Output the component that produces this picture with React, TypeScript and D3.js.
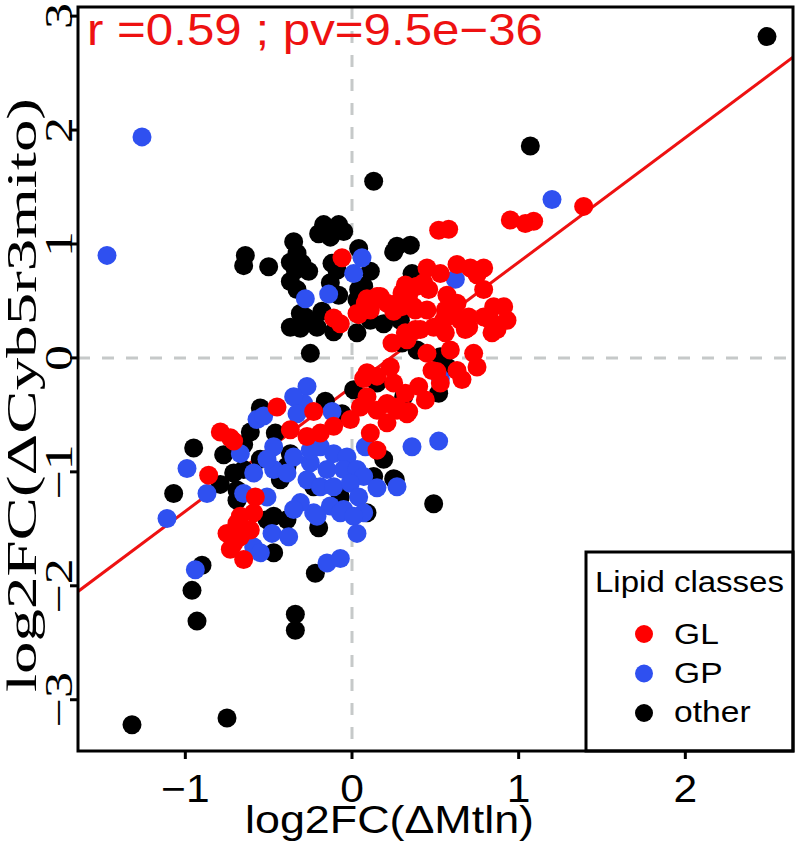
import React from "react";
import * as d3 from "d3";

// ---- data (log2 fold changes) ----
const otherX = [2.49,1.07,0.13,-0.64,-0.65,-0.50,-0.35,-0.33,-0.37,-0.34,-0.30,-0.26,-0.37,-0.33,-0.17,-0.08,-0.20,-0.13,-0.05,-0.12,-0.09,-0.13,-0.08,0.04,-0.28,-0.31,-0.21,-0.11,0.03,-0.18,-0.25,0.04,0.03,0.27,0.35,0.25,0.11,0.07,0.36,0.39,0.11,0.19,0.29,0.39,0.53,0.57,0.30,0.52,0.31,0.26,0.49,0.01,0.15,-0.16,-0.06,0.19,0.13,0.25,-0.07,0.09,-0.55,-0.61,-0.46,-0.95,-0.77,-0.65,-0.79,-0.65,-0.69,-0.37,-0.39,-0.43,-1.07,-0.69,-0.47,-0.23,-0.39,-0.47,-0.20,-0.90,-0.96,-0.93,-0.22,-0.34,-0.34,-1.32,-0.75,-0.37,-0.27,-0.31,-0.71,-0.55,-0.51];
const otherY = [2.82,1.86,1.55,0.90,0.81,0.80,1.02,0.92,0.84,0.77,0.83,0.76,0.67,0.60,1.17,1.17,1.09,1.06,1.11,0.83,0.77,0.66,0.55,0.96,0.36,0.26,0.27,0.23,0.22,0.41,0.04,0.60,0.51,0.98,0.99,0.93,0.76,0.63,0.74,0.68,0.33,0.30,0.33,0.07,0.01,-0.08,0.13,-0.31,-0.34,-1.07,-1.28,-0.28,-0.22,-0.38,-0.49,-0.89,-1.04,-1.06,-1.22,-1.36,-0.44,-0.65,-0.66,-0.79,-0.85,-0.76,-1.11,-0.98,-1.16,-0.84,-0.95,-1.07,-1.19,-1.25,-1.39,-1.13,-1.42,-1.71,-1.49,-1.82,-2.04,-2.31,-1.89,-2.25,-2.39,-3.22,-3.16,0.27,0.33,0.39,-1.01,-0.89,-1.42];

const gpX = [1.20,-1.47,-1.26,-0.28,0.06,0.01,-0.14,0.62,0.53,0.36,0.52,0.27,-0.27,-0.29,-0.12,-0.19,-0.11,-0.03,-0.25,-0.15,-0.05,0.03,0.07,-0.27,-0.19,-0.11,-0.01,0.04,0.15,-0.23,-0.13,-0.05,0.07,0.08,-0.35,-0.33,-0.57,-0.53,-0.47,-0.25,-0.59,-0.47,-0.39,-0.35,-0.65,-0.51,-0.31,-0.67,-0.87,-0.99,-1.11,-0.59,-0.55,-0.48,-0.38,-0.35,-0.21,-0.07,0.01,0.03,-0.94,-0.15,-0.07,-0.51];
const gpY = [1.39,0.90,1.94,0.52,0.88,0.74,0.56,0.69,-0.18,-0.78,-0.73,-1.13,-0.25,-0.40,-0.47,-0.78,-0.84,-0.87,-0.92,-0.98,-0.98,-0.98,-1.04,-1.07,-1.13,-1.13,-1.10,-1.22,-1.14,-1.36,-1.30,-1.33,-1.36,-0.78,-0.34,-0.49,-0.54,-0.51,-0.78,-0.81,-1.01,-0.98,-1.01,-0.87,-1.19,-1.22,-1.27,-0.84,-1.19,-0.97,-1.41,-1.66,-1.71,-1.54,-1.57,-1.33,-1.39,-1.36,-1.39,-1.54,-1.86,-1.80,-1.76,-0.89];

const glX = [1.39,0.95,1.04,1.09,0.52,0.58,-0.06,-0.11,-0.07,0.04,0.08,0.45,0.53,0.63,0.71,0.79,0.75,0.79,0.32,0.39,0.34,0.43,0.09,0.15,0.21,0.27,0.25,0.03,0.11,0.37,0.45,0.57,0.63,0.59,0.55,0.49,0.41,0.65,0.70,0.85,0.91,0.93,0.87,0.83,0.79,0.24,0.33,0.45,0.59,0.73,0.75,0.63,0.51,0.23,0.09,0.15,0.30,0.46,0.56,0.38,0.30,0.70,0.84,0.68,0.56,0.38,0.32,0.48,0.66,0.40,0.44,0.32,0.34,0.27,0.07,0.25,0.53,0.09,0.05,0.15,0.21,0.27,0.33,0.21,0.11,0.15,-0.01,-0.11,-0.23,-0.27,-0.19,-0.45,-0.37,-0.79,-0.73,-0.71,-0.86,-0.58,-0.67,-0.59,-0.75,-0.69,-0.67,-0.73,-0.65,-0.71,-0.67,-0.61,0.17];
const glY = [1.33,1.21,1.18,1.20,1.12,1.13,0.88,0.35,0.30,0.38,0.48,0.79,0.74,0.82,0.79,0.79,0.73,0.60,0.64,0.63,0.55,0.66,0.52,0.54,0.48,0.48,0.41,0.39,0.42,0.45,0.42,0.55,0.48,0.39,0.33,0.27,0.25,0.33,0.27,0.45,0.45,0.33,0.25,0.33,0.36,0.13,0.16,0.04,0.07,0.04,-0.08,-0.11,-0.12,-0.08,-0.13,-0.16,0.57,0.60,0.42,0.42,0.45,0.36,0.22,0.25,0.22,0.25,0.22,-0.11,-0.19,-0.25,-0.37,-0.31,-0.47,-0.43,-0.18,-0.22,-0.22,-0.34,-0.43,-0.46,-0.40,-0.46,-0.49,-0.57,-0.66,-0.81,-0.54,-0.60,-0.47,-0.69,-0.66,-0.43,-0.63,-0.65,-0.70,-0.73,-1.03,-1.22,-1.39,-1.36,-1.54,-1.45,-1.57,-1.68,-1.77,-1.63,-1.49,-1.51,0.54];

const xTicks = [-1, 0, 1, 2];
const yTicks = [-3, -2, -1, 0, 1, 2, 3];
const fitIntercept = -0.253;
const fitSlope = 1.093;
const statText = "r =0.59 ; pv=9.5e\u221236";
const legendTitle = "Lipid classes";
const classes = ["GL", "GP", "other"];
const classColors = ["#ff0000", "#2f50f0", "#000000"];

const fmt = (v: number) => (v < 0 ? "\u2212" + Math.abs(v) : String(v));

export default function App() {
  const L = 78, R = 793, T = 7, B = 751;
  const x = d3.scaleLinear().domain([-1.644, 2.646]).range([L, R]);
  const y = d3.scaleLinear().domain([-3.45, 3.08]).range([B, T]);
  const sans = "'Liberation Sans', Arial, sans-serif";
  const serif = "'Liberation Serif', 'Times New Roman', serif";
  const r = 9.5;

  const series = [
    { xs: otherX, ys: otherY, color: classColors[2] },
    { xs: gpX, ys: gpY, color: classColors[1] },
    { xs: glX, ys: glY, color: classColors[0] },
  ];
  const [x0, x1] = x.domain();
  const fitLine = d3.line<number>()
    .x((d) => x(d))
    .y((d) => y(fitIntercept + fitSlope * d))([x0, x1]);

  return (
    <div style={{ position: "absolute", left: 0, top: 0 }}>
      <svg width={796} height={845} style={{ display: "block", background: "#fff" }}>
        <defs>
          <clipPath id="plotclip">
            <rect x={L} y={T} width={R - L} height={B - T} />
          </clipPath>
        </defs>
        <g clipPath="url(#plotclip)">
          <line x1={x(0)} x2={x(0)} y1={T} y2={B} stroke="#c6c9c9" strokeWidth={3} strokeDasharray="12,12" />
          <line x1={L} x2={R} y1={y(0)} y2={y(0)} stroke="#c6c9c9" strokeWidth={3} strokeDasharray="12,12" />
          <path d={fitLine || ""} stroke="#ee1111" strokeWidth={3} fill="none" />
          {series.map((s, si) =>
            s.xs.map((v, i) => (
              <circle key={si + "-" + i} cx={x(v)} cy={y(s.ys[i])} r={r} fill={s.color} />
            ))
          )}
        </g>
        <text x={87} y={45} fontFamily={sans} fontSize={44} fill="#ee1111" textLength={456} lengthAdjust="spacingAndGlyphs">
          {statText}
        </text>
        {/* legend */}
        <rect x={586} y={552} width={R - 586} height={B - 552} fill="#fff" stroke="#000" strokeWidth={3} />
        <text x={595} y={592} fontFamily={sans} fontSize={30} textLength={189} lengthAdjust="spacingAndGlyphs">
          {legendTitle}
        </text>
        {classes.map((c, i) => (
          <g key={c}>
            <circle cx={644} cy={634 + i * 39.5} r={9} fill={classColors[i]} />
            <text transform={`translate(674,${644 + i * 39}) scale(1.12,1)`} fontFamily={sans} fontSize={30}>
              {c}
            </text>
          </g>
        ))}
        {/* frame */}
        <rect x={L} y={T} width={R - L} height={B - T} fill="none" stroke="#000" strokeWidth={3} />
        {/* x axis */}
        {xTicks.map((t) => (
          <g key={t}>
            <line x1={x(t)} x2={x(t)} y1={B} y2={B + 8} stroke="#000" strokeWidth={3} />
            <text transform={`translate(${x(t)},802) scale(1.12,1)`} textAnchor="middle" fontFamily={sans} fontSize={38}>
              {fmt(t)}
            </text>
          </g>
        ))}
        <text x={245} y={833} fontFamily={sans} fontSize={39} textLength={289} lengthAdjust="spacingAndGlyphs">
          log2FC(ΔMtln)
        </text>
        {/* y axis */}
        {yTicks.map((t) => (
          <g key={t}>
            <line x1={L - 8} x2={L} y1={y(t)} y2={y(t)} stroke="#000" strokeWidth={3} />
            <text transform={`translate(72,${y(t)}) rotate(-90) scale(1.3,1)`} textAnchor="middle" fontFamily={serif} fontSize={40}>
              {fmt(t)}
            </text>
          </g>
        ))}
        <text transform={`translate(36,395) rotate(-90)`} textAnchor="middle" fontFamily={serif} fontSize={42} textLength={594} lengthAdjust="spacingAndGlyphs">
          log2FC(ΔCyb5r3mito)
        </text>
      </svg>
    </div>
  );
}
